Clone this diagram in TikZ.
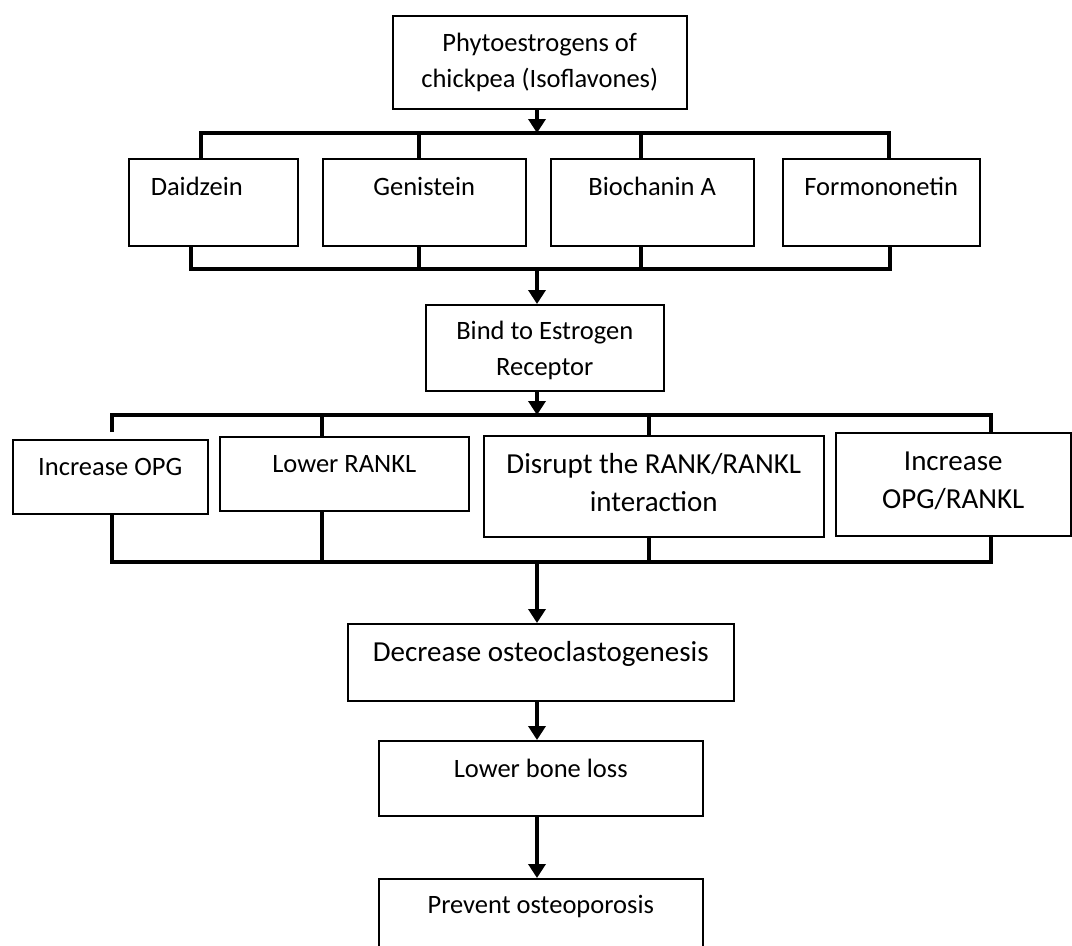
\documentclass[tikz,border=0pt]{standalone}
\usepackage{fontspec}
\setmainfont{Carlito}
\usetikzlibrary{arrows.meta}

\begin{document}
\begin{tikzpicture}[x=1pt, y=-1pt,
  box/.style={draw, line width=1.5pt, anchor=north west, inner sep=0pt, font=\fontsize{26.5}{36}\selectfont},
  bigbox/.style={box, font=\fontsize{29}{38}\selectfont},
  rowbox/.style={box, text height=37pt, text depth=50pt},
  bus/.style={line width=4.5pt},
  arr/.style={line width=4.5pt, -{Triangle[width=17pt, length=14pt]}}
]
\useasboundingbox (0,0) rectangle (1072,946);

% ----- Source -----
\node[box, minimum width=294pt, text height=71.5pt, text depth=21.5pt, align=center] (phyto) at (392,15) {Phytoestrogens of\\chickpea (Isoflavones)};

% ----- Isoflavones (y = 158) -----
\node[rowbox, text width=125pt, inner xsep=22pt, align=left] (daid) at (128,158) {Daidzein};
\node[rowbox, minimum width=203pt] (gen)  at (322,158) {Genistein};
\node[rowbox, minimum width=203pt] (bio)  at (550,158) {Biochanin A};
\node[rowbox, minimum width=197pt] (form) at (782,158) {Formononetin};

% ----- Receptor -----
\node[box, minimum width=238pt, text height=71pt, text depth=15pt, align=center] (bind) at (425,304) {Bind to Estrogen\\Receptor};

% ----- Effects (y = 435) -----
\node[box, minimum width=195pt, text height=36pt, text depth=38pt] (opg)   at (12,439)  {Increase OPG};
\node[box, minimum width=249pt, text height=36pt, text depth=38pt] (rankl) at (219,436) {Lower RANKL};
\node[bigbox, minimum width=340pt, text height=76pt, text depth=25pt, align=center] (disrupt) at (483,435) {Disrupt the RANK/RANKL\\interaction};
\node[bigbox, minimum width=235pt, text height=76pt, text depth=27pt, align=center] (ratio)   at (835,432) {Increase\\OPG/RANKL};

% ----- Outcome chain -----
\node[bigbox, minimum width=386pt, text height=38pt, text depth=39pt] (decr)    at (347,623) {Decrease osteoclastogenesis};
\node[box, minimum width=324pt, text height=37pt, text depth=38pt]    (lower)   at (378,740) {Lower bone loss};
\node[box, minimum width=324pt, text height=35pt, text depth=40pt]    (prevent) at (378,878) {Prevent osteoporosis};

% ----- Bus points -----
\coordinate (s1) at (201,133); \coordinate (s2) at (419,133);
\coordinate (s3) at (641,133); \coordinate (s4) at (889,133);
\coordinate (b1) at (191,269); \coordinate (b2) at (419,269);
\coordinate (b3) at (641,269); \coordinate (b4) at (890,269);
\coordinate (t1) at (112,415); \coordinate (t2) at (322,415);
\coordinate (t3) at (649,415); \coordinate (t4) at (991,415);
\coordinate (u1) at (112,562); \coordinate (u2) at (322,562);
\coordinate (u3) at (649,562); \coordinate (u4) at (991,562);
\coordinate (a1) at (537,133); \coordinate (c1) at (537,269);
\coordinate (c2) at (537,415); \coordinate (c3) at (537,562);

% ----- Isoflavone buses -----
\draw[bus] (s1 |- daid.north) -- (s1) -- (s4) -- (s4 |- form.north);
\draw[bus] (s2) -- (s2 |- gen.north);
\draw[bus] (s3) -- (s3 |- bio.north);
\draw[bus] (daid.south -| b1) -- (b1) -- (b4) -- (form.south -| b4);
\draw[bus] (gen.south -| b2) -- (b2);
\draw[bus] (bio.south -| b3) -- (b3);

% ----- Effect buses -----
\draw[bus] ([yshift=7pt]opg.north -| t1) -- (t1) -- (t4) -- (t4 |- ratio.north);
\draw[bus] (t2) -- (t2 |- rankl.north);
\draw[bus] (t3) -- (t3 |- disrupt.north);
\draw[bus] (opg.south -| u1) -- (u1) -- (u4) -- (ratio.south -| u4);
\draw[bus] (rankl.south -| u2) -- (u2);
\draw[bus] (disrupt.south -| u3) -- (u3);

% ----- Main flow -----
\draw[arr] (phyto.south -| a1) -- (a1);
\draw[arr] (c1) -- (c1 |- bind.north);
\draw[arr] (bind.south -| c2) -- (c2);
\draw[arr] (c3) -- (c3 |- decr.north);
\draw[arr] (decr.south -| c3) -- (c3 |- lower.north);
\draw[arr] (lower.south -| c3) -- (c3 |- prevent.north);

\end{tikzpicture}
\end{document}
